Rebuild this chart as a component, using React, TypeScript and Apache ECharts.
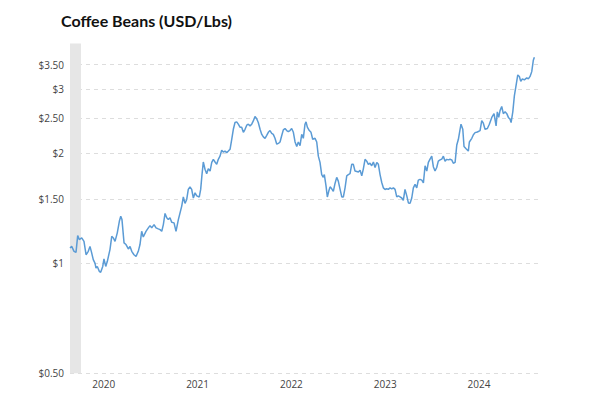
import React, { useEffect, useRef } from "react";
import * as echarts from "echarts";

const years = [
  2020.140, 2020.158, 2020.183, 2020.204, 2020.222, 2020.239, 2020.265, 2020.289, 2020.311, 2020.335,
  2020.353, 2020.371, 2020.388, 2020.407, 2020.417, 2020.431, 2020.452, 2020.467, 2020.489, 2020.502,
  2020.521, 2020.538, 2020.566, 2020.585, 2020.602, 2020.620, 2020.644, 2020.666, 2020.681, 2020.694,
  2020.716, 2020.737, 2020.762, 2020.780, 2020.798, 2020.822, 2020.844, 2020.868, 2020.886, 2020.904,
  2020.921, 2020.950, 2020.975, 2020.993, 2021.011, 2021.036, 2021.057, 2021.081, 2021.100, 2021.118,
  2021.135, 2021.153, 2021.171, 2021.188, 2021.206, 2021.224, 2021.249, 2021.270, 2021.295, 2021.313,
  2021.331, 2021.348, 2021.366, 2021.384, 2021.401, 2021.419, 2021.437, 2021.455, 2021.473, 2021.491,
  2021.518, 2021.533, 2021.547, 2021.561, 2021.579, 2021.597, 2021.614, 2021.633, 2021.651, 2021.668,
  2021.686, 2021.704, 2021.721, 2021.739, 2021.757, 2021.774, 2021.792, 2021.811, 2021.828, 2021.846,
  2021.864, 2021.881, 2021.899, 2021.917, 2021.934, 2021.952, 2021.970, 2021.988, 2022.006, 2022.024,
  2022.041, 2022.059, 2022.077, 2022.094, 2022.112, 2022.130, 2022.147, 2022.166, 2022.184, 2022.201,
  2022.219, 2022.237, 2022.254, 2022.272, 2022.290, 2022.307, 2022.325, 2022.344, 2022.361, 2022.379,
  2022.397, 2022.414, 2022.432, 2022.450, 2022.467, 2022.485, 2022.503, 2022.521, 2022.539, 2022.557,
  2022.574, 2022.592, 2022.610, 2022.627, 2022.645, 2022.656, 2022.670, 2022.691, 2022.709, 2022.727,
  2022.752, 2022.770, 2022.787, 2022.805, 2022.823, 2022.840, 2022.851, 2022.869, 2022.883, 2022.898,
  2022.912, 2022.930, 2022.947, 2022.965, 2022.983, 2023.000, 2023.019, 2023.037, 2023.054, 2023.072,
  2023.090, 2023.107, 2023.125, 2023.143, 2023.160, 2023.178, 2023.197, 2023.214, 2023.232, 2023.250,
  2023.267, 2023.285, 2023.303, 2023.320, 2023.338, 2023.356, 2023.374, 2023.392, 2023.410, 2023.427,
  2023.445, 2023.463, 2023.480, 2023.498, 2023.516, 2023.533, 2023.552, 2023.570, 2023.587, 2023.605,
  2023.623, 2023.640, 2023.658, 2023.676, 2023.693, 2023.711, 2023.730, 2023.747, 2023.765, 2023.783,
  2023.800, 2023.818, 2023.836, 2023.853, 2023.871, 2023.890, 2023.907, 2023.925, 2023.943, 2023.960,
  2023.978, 2023.996, 2024.013, 2024.031, 2024.049, 2024.066, 2024.085, 2024.103, 2024.120, 2024.138,
  2024.156, 2024.173, 2024.191, 2024.209, 2024.226, 2024.245, 2024.263, 2024.280, 2024.298, 2024.308,
  2024.327, 2024.340, 2024.362, 2024.386, 2024.397, 2024.423, 2024.440, 2024.458, 2024.482, 2024.511,
  2024.529, 2024.546, 2024.564, 2024.589, 2024.610, 2024.636, 2024.660, 2024.682, 2024.695, 2024.710,
  2024.724, 2024.742, 2024.759, 2024.778, 2024.796, 2024.813, 2024.831, 2024.842, 2024.860, 2024.877,
  2024.895, 2024.913, 2024.930, 2024.945, 2024.962, 2024.983, 2025.009, 2025.026, 2025.044, 2025.062,
  2025.079, 2025.090,
];

const prices = [
  1.102, 1.113, 1.079, 1.072, 1.191, 1.162, 1.174, 1.149, 1.056, 1.079,
  1.113, 1.068, 1.024, 1.0, 0.971, 0.981, 0.951, 0.945, 0.981, 1.028,
  0.981, 1.013, 1.091, 1.186, 1.174, 1.149, 1.212, 1.304, 1.346, 1.318,
  1.138, 1.126, 1.095, 1.113, 1.079, 1.056, 1.045, 1.079, 1.126, 1.224,
  1.181, 1.224, 1.251, 1.269, 1.251, 1.277, 1.251, 1.243, 1.237, 1.224,
  1.277, 1.37, 1.333, 1.318, 1.333, 1.296, 1.291, 1.224, 1.318, 1.375,
  1.435, 1.52, 1.46, 1.496, 1.594, 1.62, 1.594, 1.51, 1.56, 1.53,
  1.52, 1.594, 1.75, 1.895, 1.81, 1.76, 1.815, 1.79, 1.89, 1.927,
  1.895, 1.867, 1.927, 1.966, 2.04, 2.017, 2.03, 2.01, 2.03, 2.053,
  2.187, 2.329, 2.43, 2.44, 2.405, 2.36, 2.36, 2.285, 2.329, 2.39,
  2.405, 2.38, 2.405, 2.455, 2.525, 2.49, 2.43, 2.329, 2.255, 2.22,
  2.2, 2.24, 2.285, 2.31, 2.27, 2.255, 2.2, 2.12, 2.13, 2.15,
  2.24, 2.32, 2.34, 2.31, 2.295, 2.31, 2.34, 2.285, 2.15, 2.09,
  2.15, 2.1, 2.255, 2.2, 2.405, 2.44, 2.36, 2.31, 2.285, 2.187,
  2.2, 2.15, 1.966, 1.89, 1.75, 1.72, 1.75, 1.63, 1.52, 1.575,
  1.62, 1.6, 1.575, 1.655, 1.72, 1.68, 1.594, 1.52, 1.52, 1.61,
  1.737, 1.75, 1.76, 1.867, 1.867, 1.79, 1.785, 1.78, 1.8, 1.737,
  1.815, 1.927, 1.905, 1.867, 1.88, 1.85, 1.895, 1.83, 1.89, 1.867,
  1.75, 1.665, 1.61, 1.594, 1.6, 1.594, 1.61, 1.6, 1.61, 1.594,
  1.52, 1.53, 1.52, 1.51, 1.487, 1.594, 1.53, 1.464, 1.46, 1.51,
  1.61, 1.645, 1.61, 1.69, 1.698, 1.69, 1.66, 1.85, 1.79, 1.89,
  1.93, 1.966, 1.84, 1.79, 1.83, 1.905, 1.92, 1.93, 1.966, 1.905,
  1.927, 1.92, 1.927, 1.92, 1.88, 1.89, 2.11, 2.187, 2.329, 2.405,
  2.329, 2.09, 2.06, 2.03, 2.15, 2.2, 2.25, 2.28, 2.29, 2.31,
  2.46, 2.42, 2.33, 2.34, 2.405, 2.51, 2.57, 2.38, 2.6, 2.51,
  2.62, 2.69, 2.57, 2.6, 2.57, 2.51, 2.48, 2.43, 2.6, 2.88,
  3.07, 3.28, 3.25, 3.15, 3.2, 3.18, 3.22, 3.2, 3.25, 3.35,
  3.6, 3.67,
];

const yTicks = [0.5, 1, 1.5, 2, 2.5, 3, 3.5];
const xTickYears = [2020, 2021, 2022, 2023, 2024];
const xTickPositions = [2020.5, 2021.5, 2022.5, 2023.5, 2024.5];
const recession = [2020.14, 2020.257];

export default function App() {
  const ref = useRef<HTMLDivElement>(null);
  useEffect(() => {
    document.body.style.margin = "0";
    const chart = echarts.init(ref.current!, undefined, { renderer: "svg" });
    const fmtY = (v: number) => {
      const r = Math.round(v * 100) / 100;
      return Number.isInteger(r) ? "$" + r : "$" + r.toFixed(2);
    };
    chart.setOption({
      animation: false,
      backgroundColor: "#ffffff",
      title: {
        text: "Coffee Beans (USD/Lbs)",
        left: 56,
        top: 7,
        textStyle: { fontFamily: "Lato", fontWeight: "bold", fontSize: 16, color: "#111" },
      },
      grid: { left: 70, right: 61, top: 43.5, bottom: 24.7 },
      xAxis: {
        type: "value",
        min: 2020.14,
        max: 2025.15,
        axisLine: { show: false },
        axisTick: { show: false },
        splitLine: { show: false },
        axisLabel: {
          customValues: xTickPositions,
          formatter: (v: number) => String(xTickYears[xTickPositions.indexOf(Math.round(v * 10) / 10)] ?? Math.floor(v)),
          fontFamily: "Open Sans",
          fontSize: 10,
          color: "#444",
          margin: 6,
        },
      },
      yAxis: {
        type: "log",
        logBase: 2,
        min: 0.5,
        max: 4,
        axisLine: { show: false },
        axisTick: { show: false, customValues: yTicks },
        axisLabel: {
          customValues: yTicks,
          formatter: fmtY,
          fontFamily: "Open Sans",
          fontSize: 10,
          color: "#444",
          margin: 6,
        },
        splitLine: { show: true, lineStyle: { color: "#dddddd", type: [4, 4], width: 1 } },
      },
      series: [
        {
          type: "line",
          data: years.map((y, i) => [y, prices[i]]),
          showSymbol: false,
          lineStyle: { color: "#5b9bd5", width: 1.5 },
          markArea: {
            silent: true,
            itemStyle: { color: "#e6e6e6" },
            data: [[{ xAxis: recession[0] }, { xAxis: recession[1] }]],
          },
        },
      ],
    });
    return () => chart.dispose();
  }, []);
  return <div ref={ref} style={{ width: 601, height: 398 }} />;
}
